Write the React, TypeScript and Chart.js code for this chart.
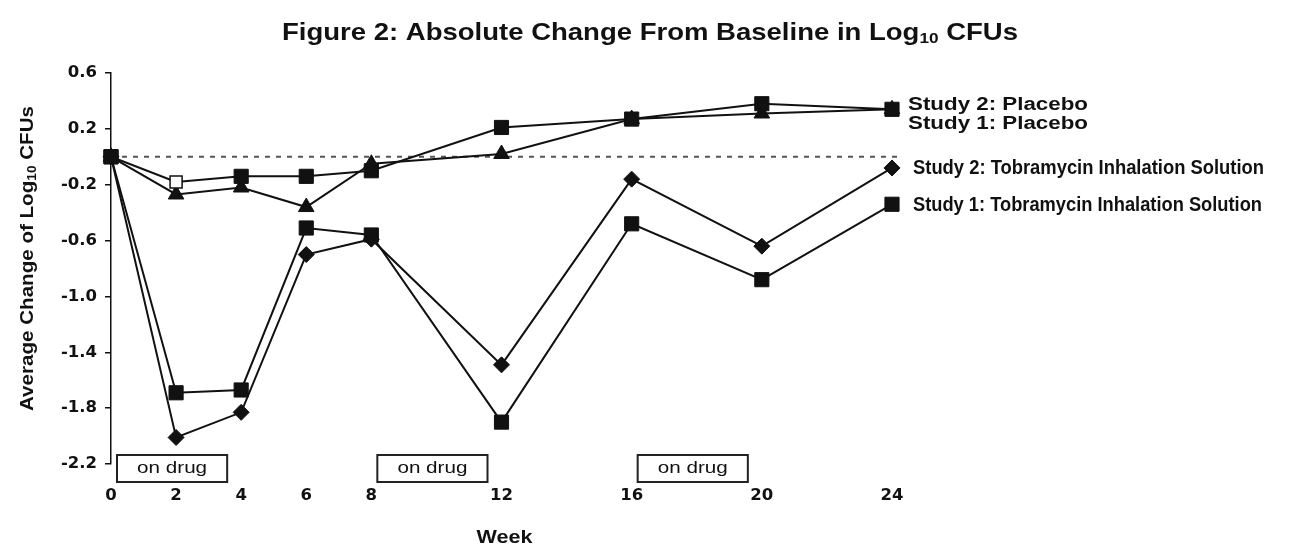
import React, { useEffect, useRef } from 'react';
import { Chart, registerables } from 'chart.js';

Chart.register(...registerables);

// ---- data ----
const weeks = [0, 2, 4, 6, 8, 12, 16, 20, 24];
const xTickValues = [0, 2, 4, 6, 8, 12, 16, 20, 24];
const yTickValues = [-2.2, -1.8, -1.4, -1.0, -0.6, -0.2, 0.2, 0.6];

const study2Placebo = [0, -0.18, -0.14, -0.14, -0.1, 0.21, 0.27, 0.38, 0.34];
const study1Placebo = [0, -0.27, -0.22, -0.36, -0.05, 0.02, 0.27, 0.31, 0.34];
const study2Tobi = [0, -2.01, -1.83, -0.7, -0.59, -1.49, -0.16, -0.64, -0.08];
const study1Tobi = [0, -1.69, -1.67, -0.51, -0.56, -1.9, -0.48, -0.88, -0.34];

const seriesNames = [
  'Study 2: Placebo',
  'Study 1: Placebo',
  'Study 2: Tobramycin Inhalation Solution',
  'Study 1: Tobramycin Inhalation Solution',
];

const onDrugStart = [0, 8, 16];
const onDrugEnd = [4, 12, 20];
const onDrugLabel = 'on drug';
const baselineValue = 0;

const titleMain = 'Figure 2: Absolute Change From Baseline in Log';
const titleSub = '10';
const titleEnd = ' CFUs';
const yTitleMain = 'Average Change of Log';
const xTitle = 'Week';

// ---- drawing helpers ----
type Part = { text: string; font: string; dy?: number };

function drawParts(
  ctx: CanvasRenderingContext2D,
  parts: Part[],
  x: number,
  y: number,
  target: number,
  align: 'center' | 'left'
) {
  let total = 0;
  const widths = parts.map((p) => {
    ctx.font = p.font;
    const w = ctx.measureText(p.text).width;
    total += w;
    return w;
  });
  const s = target / total;
  ctx.save();
  ctx.translate(x, y);
  ctx.scale(s, 1);
  ctx.textBaseline = 'middle';
  ctx.textAlign = 'left';
  ctx.fillStyle = '#111';
  let cx = align === 'center' ? -total / 2 : 0;
  parts.forEach((p, i) => {
    ctx.font = p.font;
    ctx.fillText(p.text, cx, p.dy || 0);
    cx += widths[i];
  });
  ctx.restore();
}

const ARIAL = '"Liberation Sans", Arial, sans-serif';
const NARROW = '"Liberation Sans Narrow", "Liberation Sans", sans-serif';

const decorPlugin = {
  id: 'decor',
  beforeDatasetsDraw(chart: any) {
    const { ctx, chartArea, scales } = chart;
    const y0 = scales.y.getPixelForValue(baselineValue);
    ctx.save();
    ctx.strokeStyle = '#555';
    ctx.lineWidth = 2;
    ctx.setLineDash([5, 6]);
    ctx.beginPath();
    ctx.moveTo(chartArea.left, y0);
    ctx.lineTo(chartArea.right + 10, y0);
    ctx.stroke();
    ctx.restore();
  },
  afterDraw(chart: any) {
    const { ctx, chartArea, scales } = chart;
    const xs = scales.x;
    const ys = scales.y;

    // title
    drawParts(
      ctx,
      [
        { text: titleMain, font: `bold 24px ${ARIAL}` },
        { text: titleSub, font: `bold 15px ${ARIAL}`, dy: 6 },
        { text: titleEnd, font: `bold 24px ${ARIAL}` },
      ],
      650,
      33,
      736,
      'center'
    );

    // y axis title
    ctx.save();
    ctx.translate(28, (chartArea.top + chartArea.bottom) / 2 - 10);
    ctx.rotate(-Math.PI / 2);
    drawParts(
      ctx,
      [
        { text: yTitleMain, font: `bold 18px ${ARIAL}` },
        { text: titleSub, font: `bold 12px ${ARIAL}`, dy: 5 },
        { text: titleEnd, font: `bold 18px ${ARIAL}` },
      ],
      0,
      0,
      305,
      'center'
    );
    ctx.restore();

    // x axis title
    drawParts(
      ctx,
      [{ text: xTitle, font: `bold 19px ${ARIAL}` }],
      (chartArea.left + chartArea.right) / 2 + 3,
      538,
      56,
      'center'
    );

    // on-drug boxes
    onDrugStart.forEach((s, i) => {
      const left = xs.getPixelForValue(s) + 6;
      const right = xs.getPixelForValue(onDrugEnd[i]) - 14;
      const top = chartArea.bottom - 9;
      const h = 27;
      ctx.save();
      ctx.fillStyle = '#fff';
      ctx.fillRect(left, top, right - left, h);
      ctx.strokeStyle = '#222';
      ctx.lineWidth = 2;
      ctx.strokeRect(left, top, right - left, h);
      ctx.restore();
      drawParts(
        ctx,
        [{ text: onDrugLabel, font: `17px ${ARIAL}` }],
        (left + right) / 2,
        top + h / 2,
        70,
        'center'
      );
    });

    // series labels
    const lastIdx = weeks.length - 1;
    const lastVals = [study2Placebo[lastIdx], study1Placebo[lastIdx], study2Tobi[lastIdx], study1Tobi[lastIdx]];
    const offX = [16, 16, 21, 21];
    const offY = [-4, 15, 1, 1];
    const fonts = [`bold 18px ${ARIAL}`, `bold 18px ${ARIAL}`, `bold 20px ${NARROW}`, `bold 20px ${NARROW}`];
    const widths = [180, 180, 351, 349];
    seriesNames.forEach((name, i) => {
      drawParts(
        ctx,
        [{ text: name, font: fonts[i] }],
        chartArea.right + offX[i],
        ys.getPixelForValue(lastVals[i]) + offY[i],
        widths[i],
        'left'
      );
    });
  },
};

function makeData(vals: number[]) {
  return weeks.map((w, i) => ({ x: w, y: vals[i] }));
}

const common = {
  borderColor: '#111',
  borderWidth: 2,
  pointBorderColor: '#111',
  pointBorderWidth: 1,
  tension: 0,
  clip: false as any,
};

const tickFont = { family: 'DejaVu Sans', weight: 'bold', size: 16.5 };

export default function App() {
  const ref = useRef<HTMLCanvasElement>(null);

  useEffect(() => {
    document.body.style.margin = '0';
    const chart = new Chart(ref.current as HTMLCanvasElement, {
      type: 'line',
      data: {
        datasets: [
          {
            ...common,
            label: seriesNames[0],
            data: makeData(study2Placebo),
            pointStyle: 'rect',
            pointRadius: (c: any) => (c.dataIndex === 1 ? 8.5 : 10),
            pointBorderWidth: (c: any) => (c.dataIndex === 1 ? 1.5 : 1),
            pointBackgroundColor: (c: any) => (c.dataIndex === 1 ? '#fff' : '#111'),
          },
          {
            ...common,
            label: seriesNames[1],
            data: makeData(study1Placebo),
            pointStyle: 'triangle',
            pointRadius: 9,
            pointBackgroundColor: '#111',
          },
          {
            ...common,
            label: seriesNames[2],
            data: makeData(study2Tobi),
            pointStyle: 'rectRot',
            pointRadius: 8,
            pointBackgroundColor: '#111',
          },
          {
            ...common,
            label: seriesNames[3],
            data: makeData(study1Tobi),
            pointStyle: 'rect',
            pointRadius: 10,
            pointBackgroundColor: '#111',
          },
        ] as any,
      },
      options: {
        animation: false,
        responsive: false,
        layout: { padding: { left: 0, right: 400, top: 73, bottom: 0 } },
        plugins: {
          legend: { display: false },
          tooltip: { enabled: false },
          title: { display: false },
        },
        scales: {
          x: {
            type: 'linear',
            min: 0,
            max: 24,
            grid: { display: false, drawTicks: false },
            border: { display: false },
            afterBuildTicks: (s: any) => {
              s.ticks = xTickValues.map((v) => ({ value: v }));
            },
            afterFit: (s: any) => {
              s.height = 88;
            },
            ticks: {
              autoSkip: false,
              maxRotation: 0,
              color: '#111',
              padding: 22,
              font: tickFont,
              callback: (v: any) => String(v),
            },
          },
          y: {
            type: 'linear',
            min: -2.2,
            max: 0.6,
            afterBuildTicks: (s: any) => {
              s.ticks = yTickValues.map((v) => ({ value: v }));
            },
            afterFit: (s: any) => {
              s.width = 111;
            },
            grid: {
              drawOnChartArea: false,
              drawTicks: true,
              tickLength: 6,
              color: '#111',
              lineWidth: 1.5,
            },
            border: { display: true, color: '#111', width: 1.5 },
            ticks: {
              color: '#111',
              padding: 8,
              font: tickFont,
              callback: (v: any) => Number(v).toFixed(1),
            },
          },
        },
      } as any,
      plugins: [decorPlugin],
    });
    return () => chart.destroy();
  }, []);

  return (
    <canvas
      ref={ref}
      width={1292}
      height={552}
      style={{ display: 'block', width: 1292, height: 552 }}
    />
  );
}
